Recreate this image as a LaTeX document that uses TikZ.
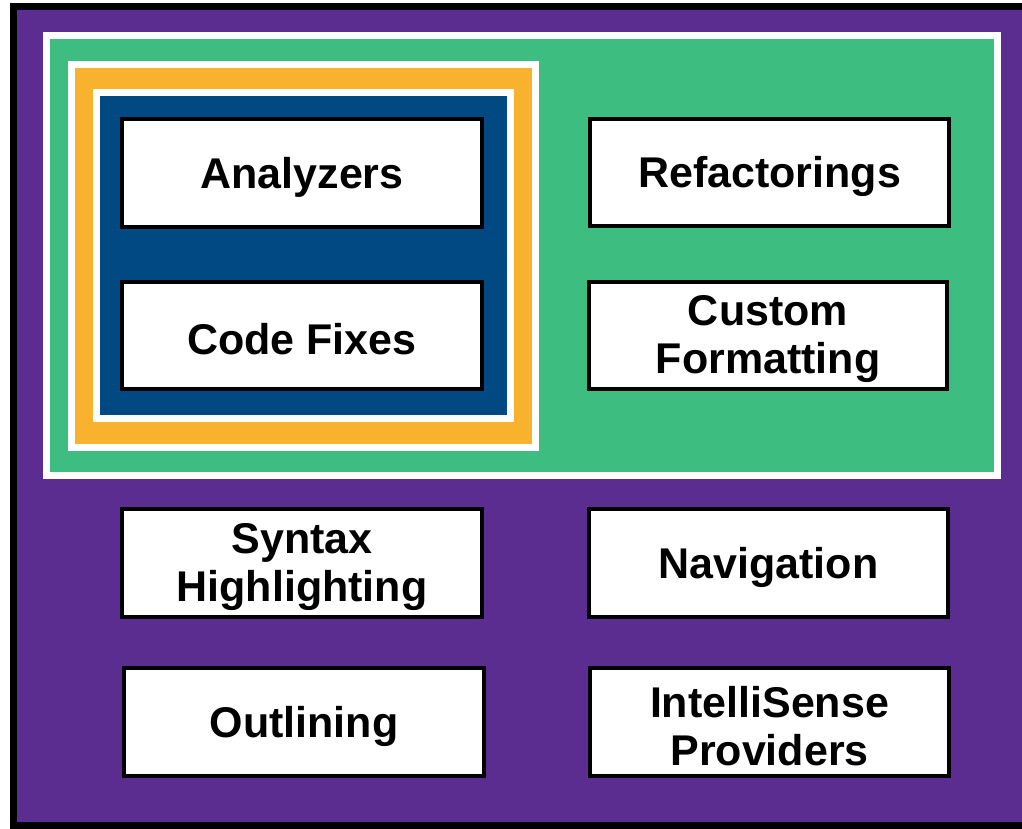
\documentclass[tikz,border=0pt]{standalone}
\usepackage{fontspec}
\setmainfont{Liberation Sans}
\definecolor{extpurple}{RGB}{92,45,145}
\definecolor{extgreen}{RGB}{61,190,128}
\definecolor{extorange}{RGB}{248,178,46}
\definecolor{extblue}{RGB}{0,73,130}
\tikzset{
  layer/.style={draw=white, line width=7pt},
  feature/.style={draw=black, fill=white, line width=4pt, inner sep=0pt},
  caption/.style={align=center, inner sep=0pt, yshift=-4pt,
    font=\bfseries\fontsize{43}{48}\selectfont},
}
\begin{document}
\begin{tikzpicture}[x=1pt, y=-1pt]
  \useasboundingbox (0,0) rectangle (1022,829);
  \clip (0,0) rectangle (1022,829);
  \fill[white] (0,0) rectangle (1022,829);
  % outer platform layer
  \draw[fill=extpurple, draw=black, line width=7pt] (13.5,6.5) rectangle (1030,825.5);
  % nested layers
  \draw[layer, fill=extgreen] (46,35.5) rectangle (997,475.5);
  \draw[layer, fill=extorange] (71,64.5) rectangle (535.5,447);
  \draw[layer, fill=extblue] (96.5,92.5) rectangle (510.5,418);
  % feature boxes
  \node[feature, minimum width=360pt, minimum height=108pt,
    label={[caption]center:Analyzers}] (analyzers) at (302,173) {};
  \node[feature, minimum width=360pt, minimum height=107pt,
    label={[caption]center:Code Fixes}] (codefixes) at (302,335.5) {};
  \node[feature, minimum width=359pt, minimum height=107pt,
    label={[caption]center:Refactorings}] (refactor) at (769.5,172.5) {};
  \node[feature, minimum width=358pt, minimum height=107pt,
    label={[caption]center:{Custom\\Formatting}}] (format) at (768,335.5) {};
  \node[feature, minimum width=360pt, minimum height=108pt,
    label={[caption]center:{Syntax\\Highlighting}}] (syntax) at (302,563) {};
  \node[feature, minimum width=359pt, minimum height=108pt,
    label={[caption]center:Navigation}] (navigation) at (768.5,563) {};
  \node[feature, minimum width=360pt, minimum height=108pt,
    label={[caption]center:Outlining}] (outlining) at (304,722) {};
  \node[feature, minimum width=359pt, minimum height=108pt,
    label={[caption]center:{IntelliSense\\Providers}}] (intellisense) at (769.5,722) {};
\end{tikzpicture}
\end{document}
